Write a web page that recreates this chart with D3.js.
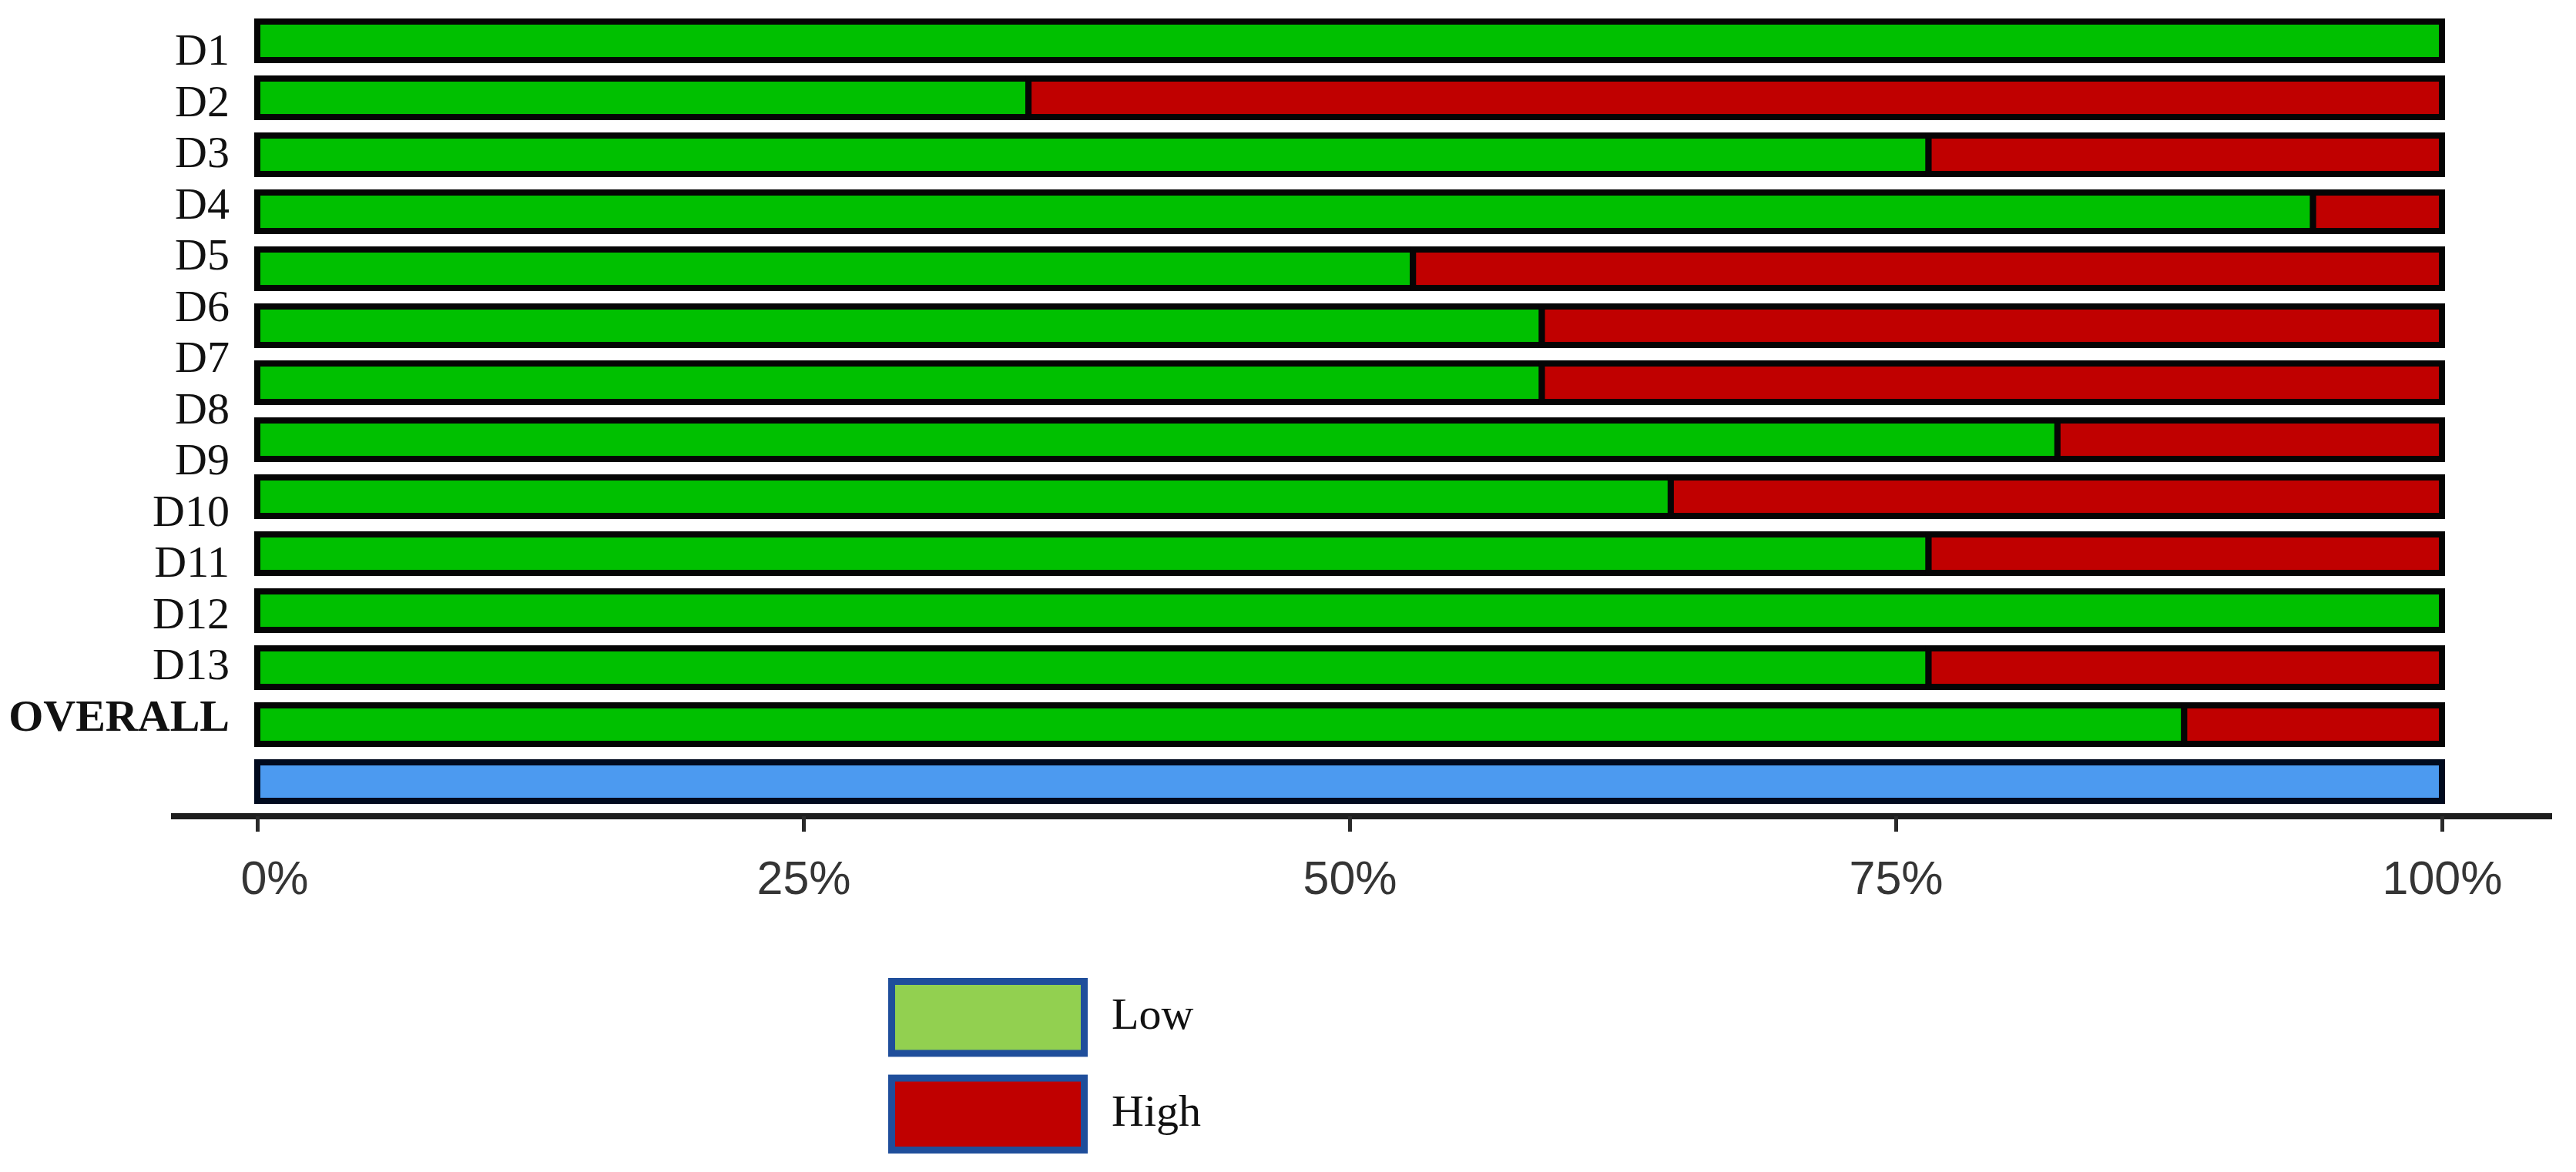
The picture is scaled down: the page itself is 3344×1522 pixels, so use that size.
<!DOCTYPE html>
<html>
<head>
<meta charset="utf-8">
<script src="https://cdn.jsdelivr.net/npm/d3@7"></script>
<style>
  html, body { margin: 0; padding: 0; background: #ffffff; }
  svg { display: block; }
</style>
</head>
<body>
<svg id="chart" width="3344" height="1522"></svg>
<script>
// ---- data ----
const categories = ["D1","D2","D3","D4","D5","D6","D7","D8","D9","D10","D11","D12","D13","OVERALL"];
// stacked bars, top to bottom (percent of studies)
const lowPct  = [100, 35.3, 76.5, 94.1, 52.9, 58.8, 58.8, 82.4, 64.7, 76.5, 100, 76.5, 88.2];
const highPct = [0, 64.7, 23.5, 5.9, 47.1, 41.2, 41.2, 17.6, 35.3, 23.5, 0, 23.5, 11.8];
const referenceBar = [100];
const tickValues = [0, 25, 50, 75, 100];
const tickLabels = ["0%", "25%", "50%", "75%", "100%"];
const legendLabels = ["Low", "High"];

// ---- styles ----
const GREEN = "#00c000", RED = "#c00000", BLUE = "#4c9af0";
const LEG_GREEN = "#92d050", LEG_RED = "#c00000", LEG_BORDER = "#1f4e9b";

const svg = d3.select("#chart");

const x = d3.scaleLinear().domain([0, 100]).range([334, 3170]);

const barKeys = d3.range(lowPct.length + referenceBar.length);
const y = d3.scaleBand().domain(barKeys).range([16, 16 + 74 * 14])
  .paddingInner(16 / 74).paddingOuter(8 / 74);

const yLab = d3.scalePoint().domain(categories).range([65, 930]);

const SW = 8;
// stacked segments
const segs = [];
lowPct.forEach((v, i) => {
  segs.push({ i, x0: 0, x1: v, color: GREEN });
  if (highPct[i] > 0) segs.push({ i, x0: v, x1: v + highPct[i], color: RED });
});

svg.append("g").selectAll("rect").data(segs).join("rect")
  .attr("x", d => x(d.x0))
  .attr("width", d => x(d.x1) - x(d.x0))
  .attr("y", d => y(d.i) + SW / 2)
  .attr("height", y.bandwidth() - SW)
  .attr("fill", d => d.color)
  .attr("stroke", "#050505")
  .attr("stroke-width", SW);

// blue reference bar
svg.append("g").selectAll("rect").data(referenceBar).join("rect")
  .attr("x", x(0))
  .attr("width", d => x(d) - x(0))
  .attr("y", y(lowPct.length) + SW / 2)
  .attr("height", y.bandwidth() - SW)
  .attr("fill", BLUE)
  .attr("stroke", "#000a1e")
  .attr("stroke-width", SW);

// row labels
svg.append("g").selectAll("text").data(categories).join("text")
  .attr("x", 298)
  .attr("y", d => yLab(d) + 19)
  .attr("text-anchor", "end")
  .attr("font-family", "'Liberation Serif', 'DejaVu Serif', serif")
  .attr("font-size", 58)
  .attr("font-weight", d => d === "OVERALL" ? "bold" : "normal")
  .attr("fill", "#111")
  .text(d => d);

// x axis
const axisY = 1060;
svg.append("line")
  .attr("x1", 222).attr("x2", 3313)
  .attr("y1", axisY).attr("y2", axisY)
  .attr("stroke", "#1e1e1e").attr("stroke-width", 8);

const ax = svg.append("g").attr("transform", `translate(0,${axisY})`)
  .call(d3.axisBottom(x).tickValues(tickValues)
    .tickFormat((d, i) => tickLabels[i]).tickSize(20).tickPadding(0));
ax.select(".domain").remove();
ax.selectAll(".tick line").attr("stroke", "#2a2a2a").attr("stroke-width", 5);
ax.selectAll(".tick text")
  .attr("y", 101).attr("dy", 0)
  .attr("dx", d => d === 0 ? 22 : 0)
  .attr("font-family", "'Liberation Sans', Arial, sans-serif")
  .attr("font-size", 61)
  .attr("fill", "#353535");

// legend
const legColors = [LEG_GREEN, LEG_RED];
const legY = d3.scaleBand().domain(legendLabels).range([1270, 1498]).paddingInner(21 / 114);
const leg = svg.append("g");
leg.selectAll("rect").data(legendLabels).join("rect")
  .attr("x", 1157.5)
  .attr("y", d => legY(d) + 4.5)
  .attr("width", 250)
  .attr("height", legY.bandwidth() - 9)
  .attr("fill", (d, i) => legColors[i])
  .attr("stroke", LEG_BORDER)
  .attr("stroke-width", 9);
leg.selectAll("text").data(legendLabels).join("text")
  .attr("x", 1443)
  .attr("y", d => legY(d) + legY.bandwidth() / 2 + 15)
  .attr("font-family", "'Liberation Serif', 'DejaVu Serif', serif")
  .attr("font-size", 58)
  .attr("fill", "#111")
  .text(d => d);
</script>
</body>
</html>
